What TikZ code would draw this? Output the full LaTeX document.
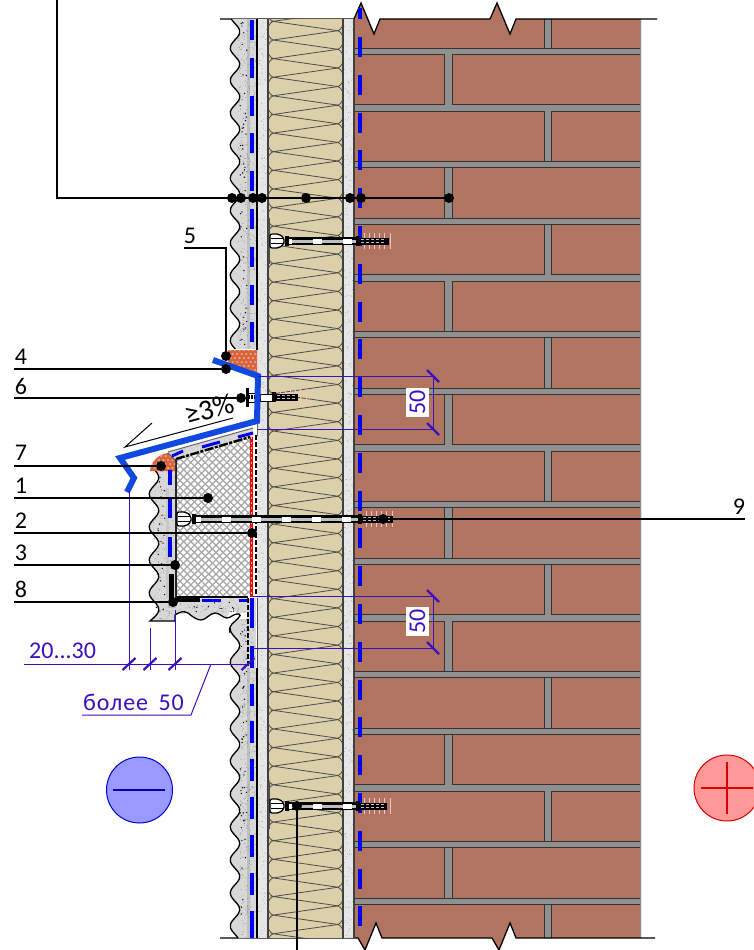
\documentclass[tikz,border=0pt]{standalone}
\usepackage{fontspec}
\setmainfont{Carlito}
\definecolor{brick}{HTML}{B07460}
\definecolor{mortar}{HTML}{909090}
\definecolor{wool}{HTML}{DCD0AA}
\definecolor{plaster}{HTML}{D8D8D8}
\definecolor{glue}{HTML}{E6E6E6}
\definecolor{dimc}{HTML}{3A10C0}
\definecolor{flash}{HTML}{1048E0}
\definecolor{memb}{HTML}{0000F0}
\definecolor{orng}{HTML}{E85C2C}
\tikzset{
  dot/.style={circle,fill=black,inner sep=0pt,minimum size=10pt},
  leader/.style={draw=black,line width=1.2pt},
  lab/.style={inner sep=0pt,font=\fontsize{24}{24}\selectfont},
  dimline/.style={draw=dimc,line width=1pt},
  tick/.style={draw=dimc,line width=2.2pt},
  dimtext/.style={inner sep=0pt,text=dimc,font=\fontsize{24}{24}\selectfont},
  membrane/.style={draw=memb,line width=4pt},
  outline/.style={draw=black,line width=1.3pt},
}
% random speckle
\newcommand\speck[7]{\foreach \i in {1,...,#5}{%
  \pgfmathsetmacro\qx{#1+rnd*(#2-#1)}\pgfmathsetmacro\qy{#3+rnd*(#4-#3)}%
  \fill[#6] (\qx,\qy) circle (#7pt);}}
\newcommand\rodpart[4]{% x0 x1 y dash
  \draw[black,line width=8pt] (#1,#3) -- (#2,#3);
  \draw[white!75!black,line width=3pt] (#1,#3) -- (#2,#3);
  \draw[white,line width=5pt,dash pattern=on 9pt off 21pt,dash phase=#4pt] (#1,#3) -- (#2,#3);
}
\newcommand\anchorpart[3]{% x0 x1 y
  \foreach \q in {-5,-3,...,5}{\draw[red!25!white,line width=.8pt] (#1+6,#3-8) ++(\q*2.6+15,0) -- ++(0,16);}
  \draw[black,line width=7pt] (#1,#3) -- (#2-1,#3);
  \draw[white!75!black,line width=1.1pt,dash pattern=on 3pt off 2pt] (#1+5,#3-1.7) -- (#2-4,#3-1.7);
  \draw[white!75!black,line width=1.1pt,dash pattern=on 3pt off 2pt] (#1+5,#3+1.7) -- (#2-4,#3+1.7);
  \fill[black] (#1,#3-5) rectangle (#1+4,#3+5);
}
\newcommand\headpart[2]{% x y
  \draw[black,line width=1.3pt,fill=white,rounded corners=2pt] (#1,#2-7) -- (#1+9,#2-7) -- (#1+14,#2-3) -- (#1+14,#2+3) -- (#1+9,#2+7) -- (#1,#2+7) -- cycle;
  \draw[black,line width=1.3pt] (#1+1,#2-2.4) -- (#1+13,#2-2.4) (#1+1,#2+2.4) -- (#1+13,#2+2.4);
  \fill[black] (#1+15,#2-5) rectangle (#1+19,#2+5);
}
\begin{document}
\begin{tikzpicture}[x=1pt,y=-1pt,line cap=butt]
\useasboundingbox (0,0) rectangle (754,950);
\clip (0,0) rectangle (754,950);
\pgfmathsetseed{7}

% ---------- brick wall
\begin{scope}
\clip (354,19) -- (361,3) -- (374,34) -- (380,19) -- (490,19) -- (497,3) -- (510,34) -- (516,19) -- (641,19)
  -- (641,938) -- (516,938) -- (510,923) -- (499,950) -- (492,938) -- (382,938) -- (376,923) -- (365,950) -- (358,938) -- (354,938) -- cycle;
\fill[brick] (350,0) rectangle (645,950);
\foreach \k in {0,...,15}{
  \pgfmathsetmacro\yy{48+56.67*\k}
  \fill[mortar] (354,\yy) rectangle (641,\yy+6.5);
  \draw[black!80,line width=.9pt] (354,\yy) -- (641,\yy) (354,\yy+6.5) -- (641,\yy+6.5);
}
\foreach \k in {0,...,16}{
  \pgfmathsetmacro\yy{48+56.67*(\k-1)+6.5}
  \pgfmathsetmacro\ye{48+56.67*\k}
  \pgfmathtruncatemacro\oddq{mod(\k,2)}
  \ifnum\oddq=0
    \fill[mortar] (544,\yy) rectangle (551,\ye);
    \draw[black!80,line width=.9pt] (544,\yy) -- (544,\ye) (551,\yy) -- (551,\ye);
  \else
    \fill[mortar] (444,\yy) rectangle (452,\ye);
    \draw[black!80,line width=.9pt] (444,\yy) -- (444,\ye) (452,\yy) -- (452,\ye);
  \fi
}
\fill[mortar] (640,0) rectangle (642,950);
\end{scope}
\draw[outline] (220,19) -- (354,19) -- (361,3) -- (374,34) -- (380,19) -- (490,19) -- (497,3) -- (510,34) -- (516,19) -- (657,19);
\draw[outline] (220,938) -- (358,938) -- (365,950) -- (376,923) -- (382,938) -- (492,938) -- (499,950) -- (510,923) -- (516,938) -- (655,938);

% ---------- glue layers
\fill[glue] (257,19) rectangle (268,938);
\fill[glue] (343,19) rectangle (354,938);
\speck{258}{268}{19}{938}{500}{black!45}{.35}
\speck{344}{354}{19}{938}{500}{black!45}{.35}

% ---------- insulation
\fill[wool] (268,19) rectangle (343,938);
\begin{scope}
\clip (268,19) rectangle (343,938);
\foreach \k in {-2,...,50}{
  \pgfmathsetmacro\la{40+18.62*\k}
  \pgfmathsetmacro\lb{\la+18.62}
  \pgfmathsetmacro\ra{\la-9.3}
  \pgfmathsetmacro\rb{\ra+18.62}
  \draw[black!70,line width=.8pt] (273,\la) .. controls (266,\la+3) and (266,\lb-3) .. (273,\lb);
  \draw[black!70,line width=.8pt] (338,\ra) .. controls (345,\ra+3) and (345,\rb-3) .. (338,\rb);
  \draw[black!70,line width=.8pt] (338,\ra) -- (273,\la) -- (338,\rb);
}
\end{scope}
\draw[black!75,line width=1.2pt] (268,19) -- (268,938) (343,19) -- (343,938);
\draw[black!75,line width=1.6pt] (354,19) -- (354,938);

% ---------- upper plaster
\fill[plaster] plot[domain=19:349,samples=90,smooth] ({235-4.8*cos((\x-48)/32.5*360)},\x) -- (256,349) -- (256,19) -- cycle;
\fill[black!25] (247,19) rectangle (250,349);
\speck{238}{256}{19}{349}{450}{black!50}{.4}
\speck{240}{247}{19}{349}{50}{black}{.7}
\draw[outline] plot[domain=19:349,samples=90,smooth] ({235-4.8*cos((\x-48)/32.5*360)},\x);
\draw[black,line width=2.6pt] (257,19) -- (257,350);

% ---------- lower plaster
\fill[plaster] plot[domain=619:938,samples=90,smooth] ({235-4.8*cos((\x-827)/33*360)},\x) -- (256,938) -- (256,598) -- (247,598) -- (247,619) -- cycle;
\fill[black!25] (247,668) rectangle (250,938);
\speck{240}{256}{619}{938}{450}{black!50}{.4}
\speck{240}{247}{625}{938}{45}{black}{.7}
\draw[outline] plot[domain=628:938,samples=90,smooth] ({235-4.8*cos((\x-827)/33*360)},\x);
\draw[black,line width=2.6pt] (257,668) -- (257,938);
\draw[black,line width=2pt,dash pattern=on 5pt off 2pt] (248,598) -- (248,668);
\draw[black!70,line width=1pt] (257,598) -- (257,668);

% ---------- sill: lower-left plaster
\fill[plaster] (168,452) -- (253,428) -- (253,437) -- (176,459) -- (176,598) -- (247,598) -- (247,612) -- (238,614) .. controls (233,610) and (232,604) .. (227,618)
  -- (215,613) -- (200,620) -- (188,613) -- (175,615) -- (175,621) -- (150,621)
  -- plot[domain=621:467,samples=50,smooth] ({154-4.8*cos((\x-527)/33*360)},\x) -- cycle;
\speck{153}{176}{470}{620}{170}{black!50}{.4}
\speck{155}{168}{475}{615}{24}{black}{.7}
\speck{178}{245}{600}{612}{60}{black!50}{.4}
\speck{178}{240}{602}{612}{12}{black}{.7}
\speck{180}{250}{438}{450}{30}{black!50}{.35}
\draw[outline] plot[domain=470:616,samples=50,smooth] ({154-4.8*cos((\x-527)/33*360)},\x) -- (150,621) -- (175,621) -- (175,615)
  .. controls (181,611) and (184,611) .. (188,613) .. controls (193,617) and (197,620) .. (201,620) .. controls (206,620) and (210,613) .. (215,613)
  .. controls (220,613) and (223,618) .. (227,618) .. controls (231,618) and (234,613) .. (239,614) .. controls (243,615) and (236,620) .. (232,624)
  .. controls (229,628) and (229,630) .. (230,633);
\draw[black!60,line width=1pt] (168,452) -- (253,428);
\fill[black!22] (166,488) rectangle (169,598);
\fill[black!25] (168,598) rectangle (176,608);

% ---------- sill: mineral-wool block
\begin{scope}
\clip (176,459) -- (250,437) -- (250,597) -- (176,597) -- cycle;
\fill[white] (170,430) rectangle (255,600);
\foreach \k in {0,...,70}{
  \draw[black!35,line width=1.2pt] (0+7.2*\k,430) -- ++(170,170);
  \draw[black!35,line width=1.2pt] (0+7.2*\k,430) -- ++(-170,170);
}
\end{scope}
\draw[black,line width=2.4pt,dash pattern=on 9pt off 1.5pt on 3pt off 1.5pt] (176,459) -- (250,437);
\draw[black!85,line width=1.4pt] (176,459) -- (176,598);
\draw[black,line width=2.2pt] (176,597) -- (248,597);
\draw[red,line width=3pt] (251,437) -- (251,597);
\draw[white!70!red,line width=.8pt,dash pattern=on 2pt off 3pt] (251,437) -- (251,597);
\draw[black,line width=2pt,dash pattern=on 5pt off 2pt] (256,435) -- (256,597);
\draw[black!60,line width=1pt] (257,421) -- (257,436);

% ---------- orange mesh blocks
\begin{scope}
\clip (228,350) -- (257,350) -- (257,375) -- (228,362) -- cycle;
\fill[orng] (225,345) rectangle (260,380);
\foreach \a in {0,...,7}{\foreach \b in {0,...,6}{
  \fill[black!30] ({226+\a*4.5+mod(\b,2)*2.2},{350+\b*4}) circle (1.3pt);}}
\end{scope}
\begin{scope}
\clip (150,471) .. controls (151,460) and (160,454) .. (168,453) -- (175,460) -- (175,471) -- cycle;
\fill[orng] (148,450) rectangle (178,473);
\foreach \a in {0,...,6}{\foreach \b in {0,...,5}{
  \fill[black!30] ({150+\a*4.5+mod(\b,2)*2.2},{452+\b*4}) circle (1.3pt);}}
\end{scope}
\draw[black!70,line width=.8pt] (168,453) -- (175,460);

% ---------- membranes (blue dashes)
\foreach \k in {0,...,23}{
  \draw[membrane] (360,37+37.8*\k) -- ++(0,20);
}
\draw[membrane] (360,8) -- (360,19);
\foreach \k in {0,...,8}{\draw[membrane] (252,20+37.8*\k) -- ++(0,20);}
\draw[membrane] (252,598) -- (252,628);
\foreach \k in {0,...,6}{\draw[membrane] (252,645.8+37.8*\k) -- ++(0,22);}
\draw[membrane] (252,911) -- (252,938);
\draw[membrane] (170,470) -- (170,485);
\draw[membrane] (170,498) -- (170,518);
\draw[membrane] (170,537) -- (170,557);
\draw[membrane,line width=3pt] (172,456) -- (183,451);
\draw[membrane,line width=3pt] (202,447) -- (220,442);
\draw[membrane,line width=3pt] (238,437) -- (253,433);
\draw[membrane,line width=3pt] (202,600) -- (221,600);
\draw[membrane,line width=3pt] (239,600) -- (247,600);
\draw[black,line width=5pt] (171,574) -- (171,600);
\draw[black,line width=3.6pt] (169,600) -- (200,600);

% ---------- bolts
\draw[black!70,line width=2pt] (268.5,218) -- (268.5,264);
\headpart{270}{241}
\rodpart{289}{356}{241}{6}
\anchorpart{356}{390}{241}
\draw[black!70,line width=2pt] (268.5,783) -- (268.5,829);
\headpart{270}{806}
\rodpart{289}{356}{806}{6}
\anchorpart{356}{388}{806}
\headpart{177}{519}
\rodpart{196}{358}{519}{4}
\anchorpart{358}{394}{519}
\fill[black] (246,388) rectangle (248.5,407);
\draw[black,line width=1pt,fill=white] (248.5,393) rectangle (256,402);
\draw[black,line width=4pt,dash pattern=on 1.2pt off 1.2pt] (249,397) -- (258,397);
\draw[black,line width=1pt,fill=white] (260,394) rectangle (272,401);
\anchorpart{272}{299}{397}

% ---------- flashing
\draw[flash,line width=6pt,miter limit=6] (213,360) -- (258,376) -- (257,421) -- (120,458) -- (134,478) -- (127,492);

% ---------- slope mark
\coordinate (sa) at (233,418);
\coordinate (sb) at (125,447);
\coordinate (sc) at (152,423);
\draw[black,line width=1pt] (sa) -- (sb) -- (sc);
\node[lab,rotate=15,font=\fontsize{29}{29}\selectfont] (slope) at (209,409) {≥3\%};

% ---------- dimensions
\coordinate (a1) at (258,376); \coordinate (a2) at (433,376);
\coordinate (b1) at (258,429); \coordinate (b2) at (433,429);
\coordinate (c1) at (253,596); \coordinate (c2) at (433,596);
\coordinate (e1) at (253,648); \coordinate (e2) at (433,648);
\draw[dimline] (a1) -- (a2) -- (b2) -- (b1);
\draw[dimline] (c1) -- (c2) -- (e2) -- (e1);
\foreach \p in {a2,b2,c2,e2}{\draw[tick] (\p) ++(-6,-6) -- ++(12,12);}
\node[dimtext,fill=white,rotate=90,minimum width=29pt,minimum height=23pt] (da) at (417.5,402.5) {50};
\node[dimtext,fill=white,rotate=90,minimum width=29pt,minimum height=23pt] (db) at (417.5,621) {50};
\coordinate (h0) at (24,664); \coordinate (h1) at (248,664);
\coordinate (v1) at (129,664); \coordinate (v1t) at (129,490);
\coordinate (v2) at (150,664); \coordinate (v2t) at (150,628);
\coordinate (v3) at (175,664); \coordinate (v3t) at (175,610);
\draw[dimline] (h0) -- (h1);
\draw[dimline] (v1t) -- ++(0,180);
\draw[dimline] (v2t) -- ++(0,42);
\draw[dimline] (v3t) -- ++(0,60);
\foreach \p in {v1,v2,v3,h1}{\draw[tick] (\p) ++(-6.5,6) -- ++(13,-12);}
\coordinate (f0) at (211,664); \coordinate (f1) at (191,715); \coordinate (f2) at (82,715);
\draw[dimline] (f0) -- (f1) -- (f2);
\node[dimtext,anchor=base west] (t2030) at (29,658) {20...30};
\node[dimtext,anchor=base west,font=\addfontfeatures{LetterSpace=4}\fontsize{24}{24}\selectfont] (tbol) at (83,710) {более\hspace{4pt} 50};

% ---------- leaders
\node[dot] (p1) at (232,198) {};
\node[dot] (p2) at (241,198) {};
\node[dot] (p3) at (253,198) {};
\node[dot] (p4) at (262,198) {};
\node[dot] (p5) at (306,198) {};
\node[dot] (p6) at (350,198) {};
\node[dot] (p7) at (361,198) {};
\node[dot] (p8) at (449,198) {};
\coordinate (ptop) at (57,-2);
\draw[leader,line width=1.6pt] (ptop) |- (p1.center) -- (p8.center);

\node[dot] (d5) at (226,356) {};
\coordinate (l5a) at (184,248); \coordinate (l5b) at (226,248);
\draw[leader] (l5a) -- (l5b) -- (d5);
\node[lab] (t5) at (190,236) {5};

\foreach \n/\yy/\xx/\ty in {4/369/226/357,6/398/241/386,7/466/161/453,1/498/208/486,2/533/252/521,3/565/175/553,8/602/173/589}{
  \node[dot] (d\n) at (\xx,\yy) {};
  \coordinate (l\n) at (14,\yy);
  \draw[leader] (l\n) -- (d\n);
  \node[lab] (t\n) at (21,\ty) {\n};
}
\node[dot] (d9) at (383,519) {};
\coordinate (l9) at (745,519);
\draw[leader] (d9) -- (l9);
\node[lab] (t9) at (739,507) {9};

\node[dot] (d10) at (297,806) {};
\coordinate (l10) at (297,952);
\draw[leader] (d10) -- (l10);

% ---------- signs
\node[circle,draw=blue!80!black,fill=blue!40!white,line width=1pt,minimum size=66pt,inner sep=0pt] (minus) at (139.5,790) {};
\draw[blue!70!black,line width=1.2pt] (minus.west) ++(7,0) -- ++(52,0);
\node[circle,draw=red!85!black,fill=red!40!white,line width=1pt,minimum size=66pt,inner sep=0pt] (plus) at (727,788) {};
\draw[red!85!black,line width=1.2pt] (plus.west) ++(7,0) -- ++(52,0);
\draw[red!85!black,line width=1.2pt] (plus.north) ++(0,7) -- ++(0,52);
\end{tikzpicture}
\end{document}
